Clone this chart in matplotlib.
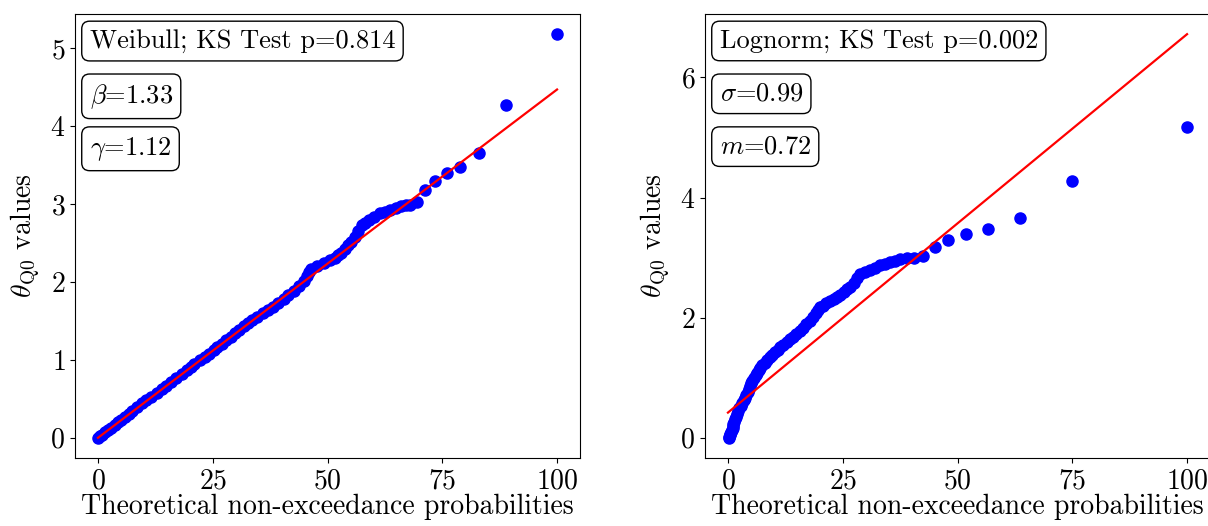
import numpy as np
import matplotlib
matplotlib.use('Agg')
import matplotlib.pyplot as plt

plt.rcParams['font.family'] = 'serif'
plt.rcParams['font.serif'] = ['cmr10']
plt.rcParams['mathtext.fontset'] = 'cm'
plt.rcParams['axes.formatter.use_mathtext'] = True
plt.rcParams['font.size'] = 20

# sorted sample values (same sample in both panels)
theta = [0.00, 0.02, 0.04, 0.07, 0.10, 0.13, 0.17, 0.20, 0.23, 0.27,
         0.31, 0.35, 0.40, 0.45, 0.49, 0.53, 0.58, 0.63, 0.67, 0.72,
         0.77, 0.82, 0.87, 0.91, 0.95, 1.00, 1.04, 1.08, 1.13, 1.17,
         1.21, 1.25, 1.30, 1.34, 1.38, 1.43, 1.47, 1.51, 1.55, 1.60,
         1.64, 1.68, 1.73, 1.78, 1.83, 1.89, 1.95, 2.01, 2.08, 2.13,
         2.17, 2.20, 2.24, 2.28, 2.31, 2.34, 2.37, 2.42, 2.47, 2.51,
         2.58, 2.66, 2.73, 2.76, 2.79, 2.83, 2.88, 2.90, 2.92, 2.95,
         2.98, 2.99, 2.99, 3.02, 3.18, 3.29, 3.40, 3.47, 3.66, 4.27, 5.18]

# theoretical positions, Weibull fit
x_weib = [0.1, 0.5, 0.9, 1.5, 2.2, 2.9, 3.8, 4.4, 5.0, 5.9,
          6.7, 7.5, 8.5, 9.5, 10.5, 11.6, 12.8, 14.0, 14.8, 15.9,
          17.1, 18.3, 19.4, 20.2, 21.0, 22.3, 23.3, 24.2, 25.2, 26.0,
          27.0, 27.9, 29.0, 29.8, 30.7, 31.8, 32.7, 33.6, 34.6, 36.0,
          37.0, 38.1, 39.3, 40.5, 41.5, 42.7, 43.8, 44.8, 45.5, 46.0,
          46.4, 47.8, 49.2, 50.5, 51.6, 52.3, 53.0, 53.8, 54.5, 55.2,
          56.0, 56.7, 57.5, 58.2, 59.0, 60.2, 61.5, 62.6, 63.7, 64.9,
          66.0, 67.0, 67.9, 69.5, 71.3, 73.5, 76.0, 78.9, 83.1, 88.9, 100.0]

# theoretical positions, lognormal fit
x_logn = [0.2, 0.3, 0.4, 0.5, 0.7, 0.8, 1.0, 1.1, 1.2, 1.4,
          1.6, 1.8, 2.0, 2.2, 2.5, 2.8, 3.1, 3.4, 3.7, 4.0,
          4.3, 4.6, 4.8, 5.0, 5.2, 5.6, 6.0, 6.3, 6.7, 7.0,
          7.5, 8.0, 8.6, 9.2, 9.7, 10.2, 10.8, 11.3, 12.0, 12.8,
          13.5, 14.2, 14.9, 15.7, 16.4, 17.1, 17.9, 18.6, 19.2, 19.6,
          20.0, 20.7, 21.4, 22.2, 23.0, 23.7, 24.4, 25.2, 25.9, 26.6,
          27.4, 28.1, 28.8, 29.8, 30.9, 32.0, 33.1, 34.2, 35.3, 36.4,
          37.5, 39.0, 40.5, 42.5, 45.1, 48.0, 51.9, 56.7, 63.6, 74.9, 100.0]

# fitted reference lines (end points)
line_x = [0, 100]
line_weib = [0.0, 4.47]
line_logn = [0.42, 6.72]

labels_weib = ['Weibull; KS Test p=0.814', r'$\beta$=1.33', r'$\gamma$=1.12']
labels_logn = ['Lognorm; KS Test p=0.002', r'$\sigma$=0.99', r'$m$=0.72']


def draw_panel(ax, x, y, lx, ly, labels):
    ax.scatter(x, y, s=64, color='blue', zorder=2)
    ax.plot(lx, ly, color='red', lw=1.6, zorder=3)
    ax.set_xticks([0, 25, 50, 75, 100])
    ax.set_xlabel('Theoretical non-exceedance probabilities', labelpad=0)
    ax.set_ylabel(r'$\theta_{\mathrm{Q0}}$ values', labelpad=6)
    for i, t in enumerate(labels):
        ax.text(0.029, 0.966 - i * 0.119, t, transform=ax.transAxes, va='top', ha='left',
                fontsize=19, zorder=5,
                bbox=dict(boxstyle='round,pad=0.3', fc='white', ec='black', lw=1.0))


fig = plt.figure(figsize=(12.08, 5.26), dpi=100)
ax1 = fig.add_axes([75 / 1208, 68 / 526, 505 / 1208, 444 / 526])
ax2 = fig.add_axes([705 / 1208, 68 / 526, 505 / 1208, 444 / 526])

draw_panel(ax1, x_weib, theta, line_x, line_weib, labels_weib)
draw_panel(ax2, x_logn, theta, line_x, line_logn, labels_logn)
ax1.set_yticks([0, 1, 2, 3, 4, 5])
ax2.set_yticks([0, 2, 4, 6])

fig.savefig('out.png', dpi=100)
